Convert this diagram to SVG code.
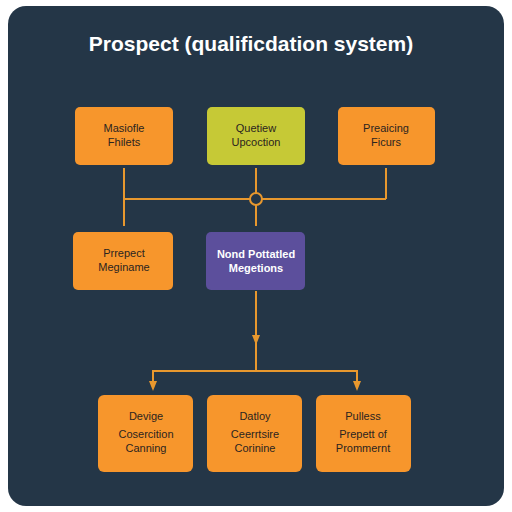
<svg xmlns="http://www.w3.org/2000/svg" width="512" height="512" viewBox="0 0 512 512">
<defs>
<style>
.box{stroke:none}
.or{fill:#F7962C}
.yl{fill:#C6C936}
.pu{fill:#5C4F9C}
.t{font-family:"Liberation Sans",Arial,sans-serif;font-size:11px;text-anchor:middle;fill:#2B2420}
.tw{fill:#FFFFFF;font-weight:bold}
.c{fill:none;stroke:#E8982E;stroke-width:2}
</style>
<marker id="ah" viewBox="0 0 10 10" refX="5" refY="5" markerWidth="5" markerHeight="5" orient="auto">
<path d="M0,1 L10,5 L0,9 z" fill="#E8982E"/>
</marker>
</defs>
<rect x="0" y="0" width="512" height="512" fill="#FFFFFF"/>
<rect x="8" y="6" width="496" height="500" rx="18" fill="#243647"/>
<text x="251" y="51" font-family="Liberation Sans,Arial,sans-serif" font-size="21" font-weight="bold" fill="#FFFFFF" text-anchor="middle">Prospect (qualificdation system)</text>
<g id="connectors">
<path class="c" d="M124,168 V226"/>
<path class="c" d="M256,168 V193 M256,205 V226"/>
<path class="c" d="M386,168 V199"/>
<path class="c" d="M124,199 H250 M262,199 H386"/>
<circle cx="256" cy="199" r="6" class="c"/>
<path class="c" d="M256,291 V340" marker-end="url(#ah)"/>
<path class="c" d="M256,336 V371"/>
<path class="c" d="M153,371 H357"/>
<path class="c" d="M153,370 V386" marker-end="url(#ah)"/>
<path class="c" d="M357,370 V386" marker-end="url(#ah)"/>
</g>
<g id="n1"><rect class="box or" x="75" y="107" width="98" height="58" rx="5"/><text class="t" x="124" y="132">Masiofle</text><text class="t" x="124" y="146">Fhilets</text></g>
<g id="n2"><rect class="box yl" x="207" y="107" width="98" height="58" rx="5"/><text class="t" x="256" y="132">Quetiew</text><text class="t" x="256" y="146">Upcoction</text></g>
<g id="n3"><rect class="box or" x="338" y="107" width="97" height="58" rx="5"/><text class="t" x="386" y="132">Preaicing</text><text class="t" x="386" y="146">Ficurs</text></g>
<g id="n4"><rect class="box or" x="73" y="232" width="100" height="58" rx="5"/><text class="t" x="124" y="257">Prrepect</text><text class="t" x="124" y="271">Meginame</text></g>
<g id="n5"><rect class="box pu" x="206" y="232" width="99" height="58" rx="5"/><text class="t tw" x="256" y="258">Nond Pottatled</text><text class="t tw" x="256" y="272">Megetions</text></g>
<g id="n6"><rect class="box or" x="98" y="395" width="95" height="77" rx="6"/><text class="t" x="146" y="420">Devige</text><text class="t" x="146" y="438">Cosercition</text><text class="t" x="146" y="452">Canning</text></g>
<g id="n7"><rect class="box or" x="207" y="395" width="95" height="77" rx="6"/><text class="t" x="255" y="420">Datloy</text><text class="t" x="255" y="438">Ceerrtsire</text><text class="t" x="255" y="452">Corinine</text></g>
<g id="n8"><rect class="box or" x="316" y="395" width="95" height="77" rx="6"/><text class="t" x="363" y="420">Pulless</text><text class="t" x="363" y="438">Prepett of</text><text class="t" x="363" y="452">Prommernt</text></g>
</svg>
